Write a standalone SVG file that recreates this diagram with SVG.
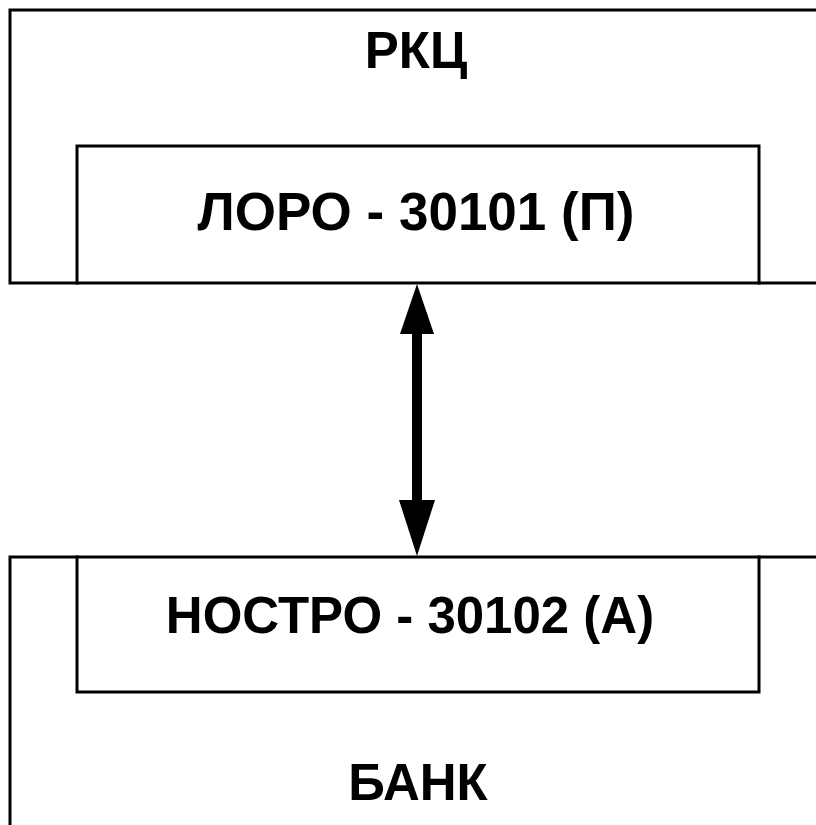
<svg xmlns="http://www.w3.org/2000/svg" width="816" height="825" viewBox="0 0 816 825">
<style>
.ln{fill:none;stroke:#000;stroke-width:3;stroke-linecap:square}
.t{font-family:"Liberation Sans",Arial,sans-serif;font-weight:bold;font-size:51px;fill:#000;text-anchor:middle}
</style>
<rect width="816" height="825" fill="#fff"/>
<g id="rkc">
<path class="ln" d="M816,10 H10 V283 H816"/>
<text class="t" x="416" y="68">РКЦ</text>
</g>
<g id="loro">
<path class="ln" d="M77,283 V146 H759 V283"/>
<text class="t" x="416" y="230" style="font-size:53px">ЛОРО - 30101 (П)</text>
</g>
<g id="bank">
<path class="ln" d="M816,557 H10 V825"/>
<text class="t" x="418" y="800">БАНК</text>
</g>
<g id="nostro">
<path class="ln" d="M77,557 V692 H759 V557"/>
<text class="t" x="410" y="633">НОСТРО - 30102 (А)</text>
</g>
<g id="connectors">
<line x1="417" y1="330" x2="417" y2="503" stroke="#000" stroke-width="10"/>
<polygon points="417,284 434,334 400,334" fill="#000"/>
<polygon points="417,556 435,500 399,500" fill="#000"/>
</g>
</svg>
